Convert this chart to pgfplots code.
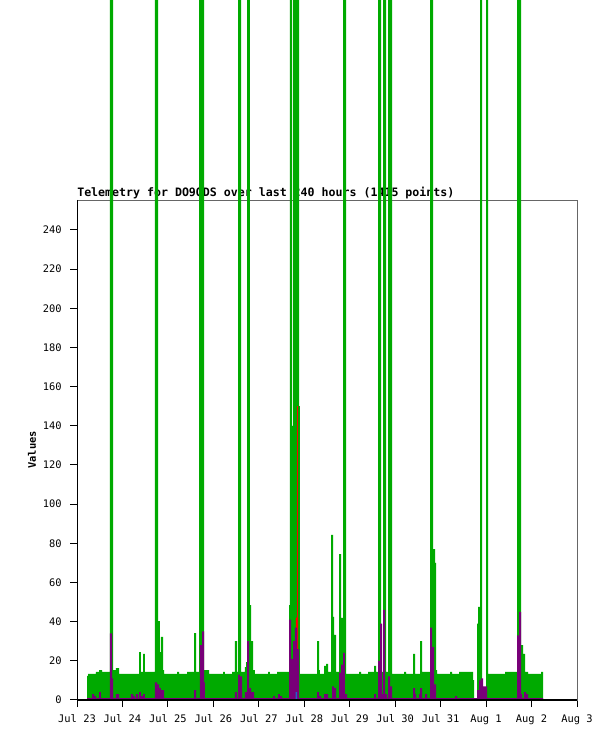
\documentclass[border=0pt]{standalone}
\usepackage{fontspec}
\setmainfont{DejaVu Sans Mono}
\usepackage{pgfplots}
\pgfplotsset{compat=1.18}
\definecolor{tgreen}{RGB}{0,170,0}
\definecolor{tpurple}{RGB}{120,0,120}
\definecolor{tblue}{RGB}{30,100,200}
\begin{document}
\begin{tikzpicture}[x=1pt,y=1pt]
\useasboundingbox (0,0) rectangle (461.25,555.75);
\node[anchor=base west, inner sep=0pt, font=\bfseries\fontsize{8.7}{10}\selectfont] at (57.75,408.0) {Telemetry for DO9ODS over last 240 hours (1415 points)};
\node[rotate=90, inner sep=0pt, font=\bfseries\fontsize{7.8}{9}\selectfont] at (24,218.25) {Values};
\begin{axis}[
  at={(57.75pt,30.75pt)}, anchor=south west,
  scale only axis, width=375pt, height=375pt,
  xmin=0, xmax=264, ymin=0, ymax=255.3,
  clip=false,
  axis line style={draw=black!60, line width=0.6pt},
  tick align=outside, tick pos=left,
  major tick length=5.25pt,
  tick style={black, line width=0.75pt},
  xtick={0,24,...,264},
  xticklabels={Jul 23,Jul 24,Jul 25,Jul 26,Jul 27,Jul 28,Jul 29,Jul 30,Jul 31,Aug 1,Aug 2,Aug 3},
  ytick={0,20,...,240},
  /pgf/number format/assume math mode=true,
  tick label style={font=\fontsize{7.8}{9}\selectfont},
  yticklabel style={anchor=east, inner sep=0pt, xshift=-6pt},
  xticklabel style={anchor=north, inner sep=0pt, yshift=-5.5pt},
]
\addplot[const plot, fill=tgreen, draw=none] coordinates {
(5.28,12.3) (5.81,13.3) (10.03,14.3) (11.62,15.3) (13.20,14.3) (17.42,358) (19.01,15.3) (20.59,16.3)
(22.18,13.3) (32.74,24.5) (33.79,14.3) (34.85,23.5) (35.90,14.3) (41.18,358) (42.77,40.3) (43.82,24.5)
(44.35,32.2) (45.41,15.3) (45.94,13.3) (52.80,14.3) (53.86,13.3) (58.08,14.3) (61.78,34.2) (62.83,14.3)
(64.42,358) (67.06,15.3) (69.70,13.3) (77.09,14.3) (78.14,13.3) (81.84,14.3) (83.42,30.1) (84.48,14.3)
(85.01,358) (86.59,14.3) (88.70,16.8) (89.23,19.4) (89.76,358) (91.34,48.5) (91.87,30.1) (92.93,15.3)
(93.98,13.3) (100.85,14.3) (101.90,13.3) (105.60,14.3) (111.94,48.5) (112.46,358) (113.52,140) (114.05,358)
(117.22,150) (117.74,13.3) (126.72,30.1) (127.78,15.3) (128.30,13.3) (130.42,17.4) (131.47,18.4) (132.53,14.3)
(134.11,84.3) (135.17,42.4) (135.70,33.2) (136.75,14.3) (138.34,74.5) (139.39,41.9) (140.45,358) (142.03,13.3)
(148.90,14.3) (149.95,13.3) (153.65,14.3) (156.82,17.4) (157.87,14.3) (158.93,358) (160.51,14.3) (161.57,358)
(163.15,14.3) (164.21,358) (166.32,13.3) (172.66,14.3) (173.71,13.3) (177.41,23.5) (178.46,13.3) (181.10,30.1)
(182.16,14.3) (186.38,358) (187.97,77) (189.02,70) (189.55,15.3) (190.08,13.3) (196.94,14.3) (198.00,13.3)
(201.70,14.3) (209.09,10.2) (209.62,0) (211.20,39) (211.73,47.5) (212.78,358) (213.84,0) (215.95,358)
(217.01,13.3) (225.98,14.3) (232.32,358) (234.43,28) (235.49,23.5) (236.54,14.3) (238.13,13.3) (244.99,14.3)
(246.05,14.3)
} \closedcycle;
\addplot[ycomb, draw=red, line width=0.75pt, mark=none] coordinates {(116.2,150)};
\addplot[const plot, fill=red, draw=none] coordinates {(115.6,42) (116.7,42)} \closedcycle;
\addplot[const plot, fill=tpurple, draw=none] coordinates {
(5.28,1) (7.92,3) (8.98,2) (10.03,1) (11.62,4) (12.67,1) (17.42,34) (18.48,11) (19.01,1) (20.59,3)
(22.18,1) (28.51,3) (29.57,2) (30.62,1) (31.15,3) (32.21,1) (32.74,4) (33.79,2) (34.85,3) (35.90,1)
(41.18,9) (42.24,8) (43.30,6) (44.35,5) (45.94,1) (61.78,5) (62.83,1) (64.94,28) (66.00,35) (67.06,9)
(67.58,1) (83.42,4) (84.48,1) (85.01,13) (86.06,12) (87.12,1) (88.70,4) (89.76,30) (90.82,6) (91.87,4)
(93.46,1) (103.49,2) (104.54,1) (106.13,3) (107.18,2) (108.24,1) (111.94,41) (112.99,21) (114.05,30) (115.10,37)
(116.16,26) (117.22,1) (126.72,4) (127.78,2) (128.83,1) (130.42,3) (132.53,1) (134.64,7) (135.70,6) (136.75,1)
(138.34,14) (139.39,18) (140.45,24) (141.50,3) (142.56,1) (156.82,3) (157.87,1) (158.93,20) (159.98,39) (161.04,3)
(161.57,46) (162.62,3) (163.68,1) (164.21,12) (165.26,7) (166.32,1) (177.41,6) (178.46,3) (178.99,1) (180.58,3)
(181.10,6) (182.16,1) (183.74,3) (184.80,1) (186.38,37) (187.44,27) (188.50,8) (189.55,1) (199.58,2) (200.64,1)
(211.20,5) (212.26,10) (213.31,11) (214.37,7) (216.48,1) (232.32,33) (233.38,45) (234.43,3) (234.96,1) (236.02,4)
(237.07,3) (238.13,1) (246.05,1)
} \closedcycle;
\addplot[const plot, fill=tblue, draw=none] coordinates {(115.4,4) (116.2,4)} \closedcycle;
\draw[black, line width=0.75pt] (rel axis cs:0,1) -- (rel axis cs:0,0);
\draw[black, line width=1.2pt] (rel axis cs:0,0) -- (rel axis cs:1,0);
\end{axis}
\end{tikzpicture}
\end{document}
